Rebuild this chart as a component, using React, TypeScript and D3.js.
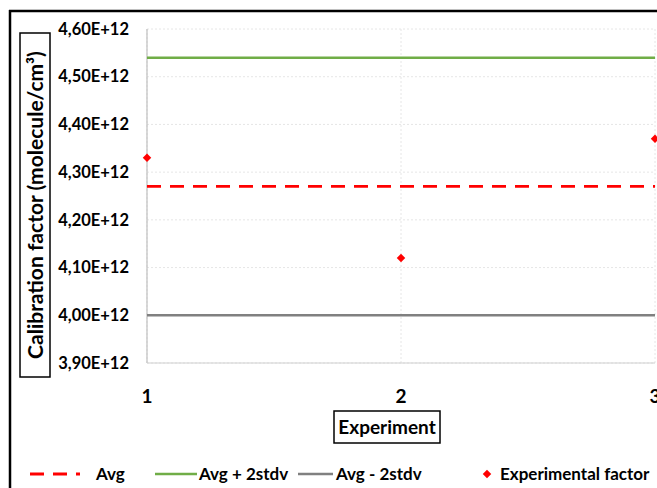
import React from "react";
import * as d3 from "d3";

const experiments = [1, 2, 3];
const experimentalFactor = [4.33e12, 4.12e12, 4.37e12];
const avgValue = 4.27e12;
const avgPlus2Stdv = 4.54e12;
const avgMinus2Stdv = 4.0e12;
const yTicks = [3.9e12, 4.0e12, 4.1e12, 4.2e12, 4.3e12, 4.4e12, 4.5e12, 4.6e12];
const xTicks = [1, 2, 3];

const W = 657;
const H = 488;
const FONT = "Lato, 'Open Sans', sans-serif";

export default function App() {
  const x = d3.scaleLinear().domain([1, 3]).range([147, 655]);
  const y = d3.scaleLinear().domain([3.9e12, 4.6e12]).range([363, 29]);
  const fmt = (v: number) => (v / 1e12).toFixed(2).replace(".", ",") + "E+12";
  const marker = d3.symbol().type(d3.symbolSquare).size(36)();

  const hLine = (v: number, color: string, dash?: string, w = 2.5) => (
    <line x1={x(1)} x2={x(3)} y1={y(v)} y2={y(v)} stroke={color} strokeWidth={w} strokeDasharray={dash} />
  );

  return (
    <svg width={W} height={H} style={{ position: "fixed", left: 0, top: 0, background: "#fff" }} fontFamily={FONT}>
      <rect x={0} y={0} width={W} height={H} fill="#fff" />
      {/* outer chart border */}
      <line x1={10} x2={10} y1={10} y2={H} stroke="#000" strokeWidth={2.5} />
      <line x1={9} x2={W} y1={11} y2={11} stroke="#000" strokeWidth={2.5} />

      {/* gridlines */}
      {yTicks.map((t) => (
        <line key={"gy" + t} x1={x(1)} x2={x(3)} y1={y(t)} y2={y(t)} stroke="#e6e6e6" strokeWidth={1} strokeDasharray="2,2" />
      ))}
      {xTicks.map((t) => (
        <line key={"gx" + t} x1={x(t)} x2={x(t)} y1={y(4.6e12)} y2={y(3.9e12)} stroke="#e6e6e6" strokeWidth={1} strokeDasharray="2,2" />
      ))}
      {/* axes */}
      <line x1={x(1)} x2={x(1)} y1={y(4.6e12)} y2={y(3.9e12)} stroke="#bfbfbf" strokeWidth={1.2} />
      <line x1={x(1)} x2={x(3)} y1={y(3.9e12)} y2={y(3.9e12)} stroke="#d0d0d0" strokeWidth={1.2} />

      {/* y tick labels */}
      {yTicks.map((t) => (
        <text key={"ty" + t} x={129} y={y(t)} dy="0.35em" textAnchor="end" fontSize={16.5} fontWeight={700} fill="#000">
          {fmt(t)}
        </text>
      ))}
      {/* x tick labels */}
      {xTicks.map((t) => (
        <text key={"tx" + t} x={x(t)} y={396} dy="0.35em" textAnchor="middle" fontSize={19} fontWeight={700} fill="#000">
          {t}
        </text>
      ))}

      {/* series lines */}
      {hLine(avgPlus2Stdv, "#70ad47")}
      {hLine(avgMinus2Stdv, "#808080")}
      {hLine(avgValue, "#ff0000", "14,9", 2.8)}

      {/* points */}
      {experiments.map((e, i) => (
        <path key={"p" + e} d={marker!} transform={`translate(${x(e)},${y(experimentalFactor[i])}) rotate(45)`} fill="#ff0000" />
      ))}

      {/* y axis title */}
      <rect x={20} y={33} width={30} height={344} fill="#fff" stroke="#000" strokeWidth={1.5} />
      <text transform="translate(36,205) rotate(-90)" dy="0.35em" textAnchor="middle" fontSize={21} fontWeight={700} fill="#000">
        Calibration factor (molecule/cm³)
      </text>

      {/* x axis title */}
      <rect x={334} y={411} width={106} height={32} fill="#fff" stroke="#000" strokeWidth={1.5} />
      <text x={387} y={427} dy="0.35em" textAnchor="middle" fontSize={19} fontWeight={700} fill="#000">
        Experiment
      </text>

      {/* legend */}
      <line x1={30} x2={80} y1={474} y2={474} stroke="#ff0000" strokeWidth={2.8} strokeDasharray="14,9" />
      <text x={96} y={474} dy="0.35em" fontSize={17} fontWeight={700} fill="#000">Avg</text>
      <line x1={155} x2={197} y1={474} y2={474} stroke="#70ad47" strokeWidth={2.5} />
      <text x={199} y={474} dy="0.35em" fontSize={17} fontWeight={700} fill="#000">Avg + 2stdv</text>
      <line x1={298} x2={333} y1={474} y2={474} stroke="#808080" strokeWidth={2.5} />
      <text x={336} y={474} dy="0.35em" fontSize={17} fontWeight={700} fill="#000">Avg - 2stdv</text>
      <path d={marker!} transform="translate(487,474) rotate(45)" fill="#ff0000" />
      <text x={500} y={474} dy="0.35em" fontSize={17} fontWeight={700} fill="#000">Experimental factor</text>
    </svg>
  );
}
